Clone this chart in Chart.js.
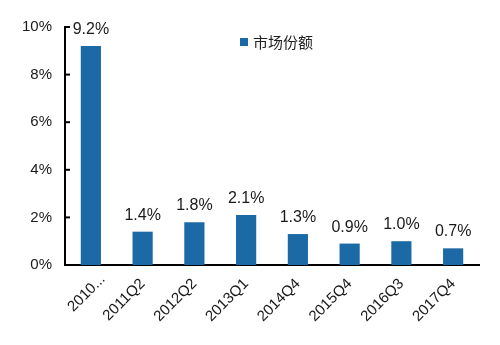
<!DOCTYPE html>
<html>
<head>
<meta charset="utf-8">
<script src="https://cdn.jsdelivr.net/npm/chart.js@4.4.1/dist/chart.umd.min.js"></script>
<style>
html,body{margin:0;padding:0;background:#fff;}
#wrap{width:500px;height:345px;position:relative;}
</style>
</head>
<body>
<div id="wrap"><canvas id="c" width="500" height="345"></canvas></div>
<script>
const categories = ["2010...", "2011Q2", "2012Q2", "2013Q1", "2014Q4", "2015Q4", "2016Q3", "2017Q4"];
const marketShare = [9.2, 1.4, 1.8, 2.1, 1.3, 0.9, 1.0, 0.7];
const seriesName = "市场份额";
const yTicks = [0, 2, 4, 6, 8, 10];

const barColor = "#1c6aa5";
const textColor = "#1a1a1a";
const tickFont = "15px 'Liberation Sans', Arial, sans-serif";

const valueLabels = {
  id: "valueLabels",
  afterDatasetsDraw(chart) {
    const ctx = chart.ctx;
    const meta = chart.getDatasetMeta(0);
    ctx.save();
    ctx.font = "16px 'Liberation Sans', Arial, sans-serif";
    ctx.fillStyle = textColor;
    ctx.textAlign = "center";
    ctx.textBaseline = "alphabetic";
    meta.data.forEach((bar, i) => {
      ctx.fillText(marketShare[i].toFixed(1) + "%", bar.x, bar.y - 12);
    });
    ctx.restore();
  }
};

const innerTicks = {
  id: "innerTicks",
  afterDraw(chart) {
    const ctx = chart.ctx;
    const ys = chart.scales.y;
    const x0 = chart.chartArea.left;
    ctx.save();
    ctx.strokeStyle = "#000";
    ctx.lineWidth = 2;
    ys.ticks.forEach((t, i) => {
      const y = ys.getPixelForTick(i);
      ctx.beginPath();
      ctx.moveTo(x0, y);
      ctx.lineTo(x0 + 5, y);
      ctx.stroke();
    });
    ctx.restore();
  }
};

// first (truncated) category label sits a little right of its tick in the reference
const firstLabel = {
  id: "firstLabel",
  afterDraw(chart) {
    const ctx = chart.ctx;
    const xs = chart.scales.x;
    const x = xs.getPixelForTick(0) + 12;
    const y = chart.chartArea.bottom + 12;
    ctx.save();
    ctx.translate(x, y);
    ctx.rotate(-Math.PI / 4);
    ctx.font = tickFont;
    ctx.fillStyle = textColor;
    ctx.textAlign = "right";
    ctx.textBaseline = "middle";
    ctx.fillText(categories[0], 0, 0);
    ctx.restore();
  }
};

const inlineLegend = {
  id: "inlineLegend",
  afterDraw(chart) {
    const ctx = chart.ctx;
    const a = chart.chartArea;
    const ds = chart.data.datasets[0];
    const x = a.left + 175;
    const y = a.top + 15;
    ctx.save();
    ctx.fillStyle = ds.backgroundColor;
    ctx.fillRect(x, y - 4, 8, 8);
    ctx.fillStyle = "#222";
    ctx.font = "15px 'Noto Sans CJK SC', sans-serif";
    ctx.textAlign = "left";
    ctx.textBaseline = "middle";
    ctx.fillText(ds.label, x + 13, y);
    ctx.restore();
  }
};

new Chart(document.getElementById("c"), {
  type: "bar",
  data: {
    labels: categories,
    datasets: [{
      label: seriesName,
      data: marketShare,
      backgroundColor: barColor,
      borderWidth: 0,
      barPercentage: 0.39,
      categoryPercentage: 1.0
    }]
  },
  options: {
    responsive: false,
    animation: false,
    devicePixelRatio: 1,
    layout: { padding: { left: 20, right: 21, top: 27, bottom: 0 } },
    plugins: {
      legend: { display: false },
      tooltip: { enabled: false }
    },
    scales: {
      x: {
        grid: { display: false, drawTicks: false },
        border: { display: true, color: "#000", width: 2 },
        afterFit(scale) { scale.height = 80; scale.paddingLeft = 0; scale.paddingRight = 0; },
        ticks: {
          color: ctx => (ctx.index === 0 ? "rgba(0,0,0,0)" : textColor),
          font: { family: "'Liberation Sans', Arial, sans-serif", size: 15 },
          minRotation: 45,
          maxRotation: 45,
          autoSkip: false,
          padding: 10
        }
      },
      y: {
        min: 0,
        max: 10,
        afterBuildTicks(scale) { scale.ticks = yTicks.map(v => ({ value: v })); },
        afterFit(scale) { scale.width = 45; scale.paddingTop = 0; scale.paddingBottom = 0; },
        grid: { display: false, drawTicks: false },
        border: { display: true, color: "#000", width: 2 },
        ticks: {
          color: textColor,
          font: { family: "'Liberation Sans', Arial, sans-serif", size: 15 },
          padding: 13,
          callback: v => v + "%"
        }
      }
    }
  },
  plugins: [valueLabels, innerTicks, firstLabel, inlineLegend]
});
</script>
</body>
</html>
